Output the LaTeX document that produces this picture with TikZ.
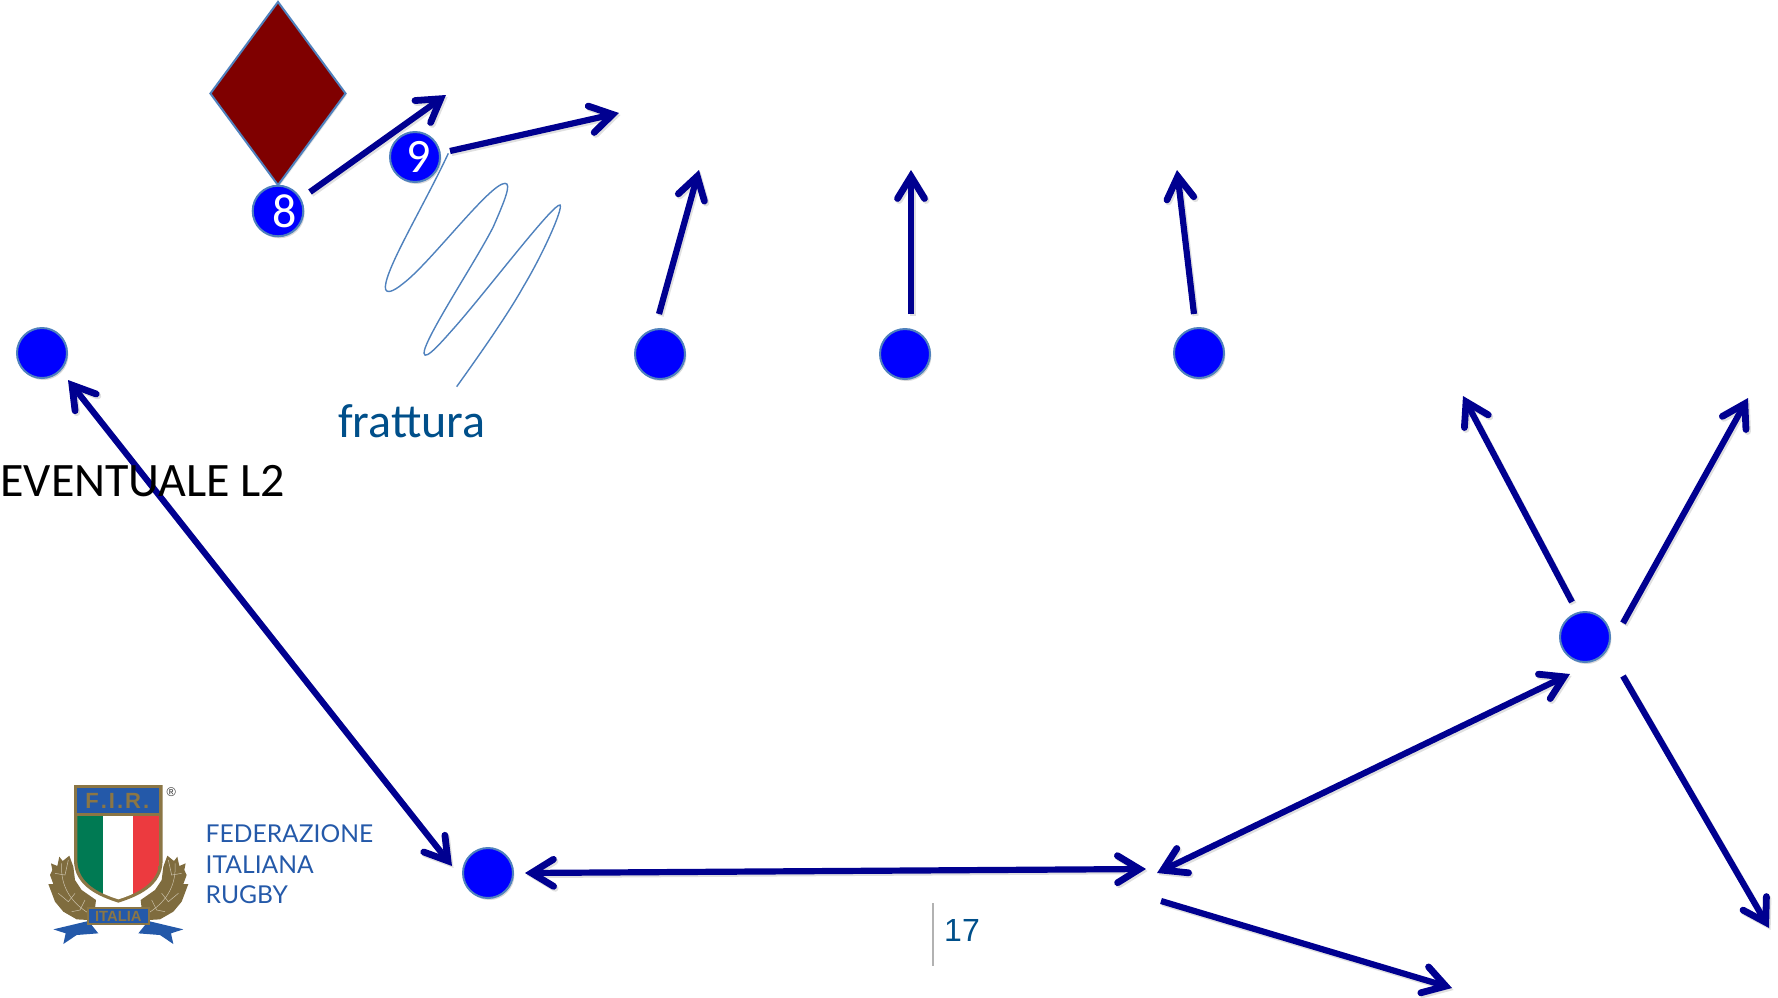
\documentclass[tikz,border=0pt]{standalone}
\usepackage{fontspec}
\setmainfont{Carlito}
\newfontfamily\arialf{Liberation Sans}
\newfontfamily\logof{Lato}
\usetikzlibrary{arrows.meta,shadows,shapes.geometric}
\definecolor{arrowblue}{HTML}{000090}
\definecolor{edgeblue}{HTML}{4F81BD}
\definecolor{textblue}{HTML}{004F8A}
\definecolor{firblue}{HTML}{2459A9}
\definecolor{firgold}{HTML}{8B7645}
\definecolor{wreath}{HTML}{7F6C3E}
\definecolor{firgreen}{HTML}{007A53}
\definecolor{firred}{HTML}{EC3A3F}
\definecolor{maroon}{HTML}{7F0000}
\tikzset{
 barbtip/.tip={Straight Barb[length=11pt,width=13.5pt,line width=3.4pt,line cap=round,line join=miter]},
 player/.style={circle,draw=edgeblue,fill=blue,line width=1pt,minimum size=25pt,inner sep=0pt,text=white,font=\fontsize{24}{24}\selectfont,drop shadow={shadow xshift=.7pt,shadow yshift=-1pt,opacity=.3}},
 run/.style={draw=arrowblue,line width=3.1pt,-barbtip,preaction={draw=black,opacity=.12,line width=3.1pt,transform canvas={shift={(.8pt,-1pt)}}}},
 runboth/.style={run,barbtip-barbtip},
 zscope/.style={x=.16667pt,y=-.16667pt},
}
\begin{document}
\begin{tikzpicture}[x=.5pt,y=-.5pt]
\useasboundingbox (0,0) rectangle (1778,997);
% diamond
\node[diamond,name=dm,draw=edgeblue,fill=maroon,line width=1pt,inner sep=0pt,shape aspect=.74,minimum height=92pt,minimum width=68pt,drop shadow={shadow xshift=.6pt,shadow yshift=-.8pt,opacity=.2}] at (278,93.5) {};
% players
\node[player] (p8) at (278,211) {\raisebox{-1pt}{\hspace{7pt}8}};
\node[player] (p9) at (415,157) {\raisebox{-1pt}{\hspace{4pt}9}};
\node[player] (a) at (42,353) {};
\node[player] (b) at (660,354) {};
\node[player] (c) at (905,354) {};
\node[player] (d) at (1199,353) {};
\node[player] (e) at (488,873) {};
\node[player] (f) at (1585,637) {};
% arrow ends
\coordinate (s8) at (310,192); \coordinate (t8) at (446,95);
\coordinate (s9) at (450,151); \coordinate (t9) at (619,113);
\coordinate (sb) at (659,314); \coordinate (tb) at (699,170);
\coordinate (sc) at (911,314); \coordinate (tc) at (911,170);
\coordinate (sd) at (1194,314); \coordinate (td) at (1177,170);
\coordinate (l1) at (68,380); \coordinate (l2) at (452,866);
\coordinate (m1) at (525,873); \coordinate (m2) at (1146,869);
\coordinate (n1) at (1157,873); \coordinate (n2) at (1570,674);
\coordinate (o1) at (1161,901); \coordinate (o2) at (1452,988);
\coordinate (q1) at (1572,602); \coordinate (q2) at (1463,396);
\coordinate (r1) at (1623,623); \coordinate (r2) at (1748,398);
\coordinate (u1) at (1623,676); \coordinate (u2) at (1769,928);
\draw[run] (s8)--(t8);
\draw[run] (s9)--(t9);
\draw[run] (sb)--(tb);
\draw[run] (sc)--(tc);
\draw[run] (sd)--(td);
\draw[runboth] (l1)--(l2);
\draw[runboth] (m1)--(m2);
\draw[runboth] (n1)--(n2);
\draw[run] (o1)--(o2);
\draw[run] (q1)--(q2);
\draw[run] (r1)--(r2);
\draw[run] (u1)--(u2);
% squiggle
\begin{scope}[shift={(190,0)},zscope]
\draw[edgeblue,line width=.7pt] (775,460) .. controls (700,620) and (590,800) .. (586,860) .. controls (585,885) and (610,875) .. (640,850) .. controls (720,790) and (900,550) .. (945,550) .. controls (965,550) and (945,600) .. (910,680) .. controls (860,780) and (700,1020) .. (702,1060) .. controls (705,1085) and (760,1020) .. (800,975) .. controls (900,860) and (1090,610) .. (1110,615) .. controls (1120,625) and (1060,760) .. (1000,860) .. controls (950,950) and (850,1090) .. (800,1160);
\end{scope}
% texts
\node[text=textblue,font=\fontsize{24}{24}\selectfont,inner sep=0pt] (fr) at (412,421) {frattura};
\node[text=black,font=\fontsize{24}{24}\selectfont,inner sep=0pt,anchor=west] (ev) at (0,481) {EVENTUALE L2};
\draw[black!30,line width=.7pt] (933,903) coordinate (v1) -- (933,966) coordinate (v2);
\node[text=textblue,font=\arialf\fontsize{16}{16}\selectfont,inner sep=0pt] (pg) at (962,930) {17};
% logo
\begin{scope}[shift={(20,760)},zscope]
 \foreach \m in {1,-1}{
 \fill[wreath] ({295-\m*177},290) -- ({295-\m*167},303) -- ({295-\m*147},287) -- ({295-\m*135},320) -- ({295-\m*130},360) -- ({295-\m*110},390) -- ({295-\m*67},420) -- ({295-\m*70},445) -- ({295-\m*90},480) -- ({295-\m*125},478) -- ({295-\m*165},455) -- ({295-\m*190},425) -- ({295-\m*210},372) -- ({295-\m*195},372) -- ({295-\m*205},345) -- ({295-\m*198},330) -- ({295-\m*202},310) -- ({295-\m*183},318) -- cycle;
 \draw[firgold!45,line width=.25pt] ({295-\m*170},310) .. controls ({295-\m*175},380) and ({295-\m*140},430) .. ({295-\m*85},462);
 \draw[firgold!45,line width=.25pt] ({295-\m*150},300) -- ({295-\m*160},345) -- ({295-\m*190},340);
 \draw[firgold!45,line width=.25pt] ({295-\m*130},400) -- ({295-\m*150},425) -- ({295-\m*180},400);
 \draw[firgold!45,line width=.25pt] ({295-\m*100},420) -- ({295-\m*115},450) -- ({295-\m*140},455);
 \fill[firblue] ({295-\m*195},508) -- ({295-\m*90},483) -- ({295-\m*60},520) -- ({295-\m*125},525) -- ({295-\m*165},552) -- ({295-\m*158},520) -- cycle;
 }
 \fill[firgold] (200,442) rectangle (390,495);
 \fill[firblue] (206,448) rectangle (384,490);
 \node[text=firgold,font=\arialf\bfseries\fontsize{7.4}{8}\selectfont,inner sep=0pt] (it) at (295,469) {ITALIA};
 \path[fill=firgold] (162,75) -- (428,75) -- (428,300) .. controls (428,380) and (350,410) .. (295,428) .. controls (240,410) and (162,380) .. (162,300) -- cycle;
 \fill[firblue] (172,85) rectangle (418,158);
 \begin{scope}
 \clip (172,168) -- (418,168) -- (418,300) .. controls (418,372) and (345,402) .. (295,418) .. controls (245,402) and (172,372) .. (172,300) -- cycle;
 \fill[firgreen] (172,168) rectangle (250,430);
 \fill[white] (250,168) rectangle (340,430);
 \fill[firred] (340,168) rectangle (418,430);
 \end{scope}
 \node[text=firgold,font=\arialf\bfseries\fontsize{11}{12}\selectfont,inner sep=0pt] (firt) at (292,124) {F\kern1pt.\kern1ptI\kern1pt.\kern1ptR\kern1pt.};
 \node[text=black!80,font=\arialf\fontsize{6.3}{7}\selectfont,inner sep=0pt] (reg) at (454,95) {®};
 \node[text=firblue,font=\logof\fontsize{12.3}{13}\selectfont,inner sep=0pt,anchor=west] (fed) at (556,221) {FEDERAZIONE};
 \node[text=firblue,font=\logof\fontsize{12.3}{13}\selectfont,inner sep=0pt,anchor=west] (ital) at (556,313) {ITALIANA};
 \node[text=firblue,font=\logof\fontsize{12.3}{13}\selectfont,inner sep=0pt,anchor=west] (rug) at (556,404) {RUGBY};
\end{scope}
\end{tikzpicture}
\end{document}
